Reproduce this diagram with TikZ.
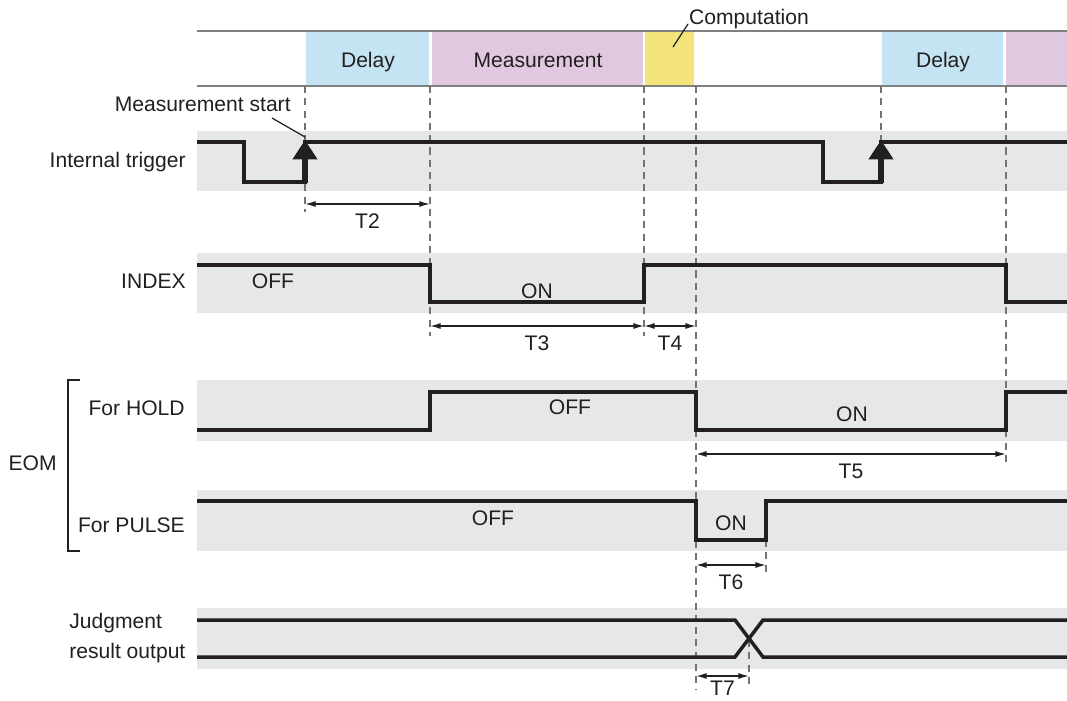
\documentclass[tikz,border=0pt]{standalone}
\usepackage{fontspec}
\setmainfont{Liberation Sans}
\usetikzlibrary{arrows.meta}
\definecolor{bandgray}{HTML}{E6E7E8}
\definecolor{delayblue}{HTML}{C4E4F4}
\definecolor{measpurple}{HTML}{E0C9E0}
\definecolor{compyellow}{HTML}{F3E57C}
\definecolor{inkgray}{HTML}{231F20}
\tikzset{
  band/.style   ={fill=bandgray},
  sig/.style    ={line width=2pt, draw=inkgray},
  tick/.style   ={draw=black!55, dash pattern=on 4pt off 3pt, line width=0.6pt},
  dim/.style    ={{Latex[length=6pt,width=3.4pt]}-{Latex[length=6pt,width=3.4pt]}, line width=0.8pt, draw=inkgray},
  lbl/.style    ={font=\fontsize{12}{15}\selectfont, inner sep=0pt, text depth=0pt, text=inkgray},
  rowlbl/.style ={lbl, anchor=east},
  trigarr/.style={line width=3.4pt, draw=inkgray, -{Triangle[length=11pt,width=13.5pt]}},
  hdr/.style    ={draw=black!50, line width=1pt},
  lead/.style   ={line width=0.7pt, draw=inkgray},
}
\begin{document}
\begin{tikzpicture}[x=0.02cm, y=-0.02cm]
  \useasboundingbox (0,0) rectangle (1067,700);

  % time marks and arrow levels
  \coordinate (tA) at (305,86);
  \coordinate (tB) at (430,86);
  \coordinate (tC) at (644,86);
  \coordinate (tD) at (696,86);
  \coordinate (tE) at (881,86);
  \coordinate (tF) at (1006,86);
  \coordinate (tG) at (766,540);
  \coordinate (tH) at (749,640);
  \coordinate (lT2) at (0,204);
  \coordinate (lT3) at (0,326);
  \coordinate (lT5) at (0,454);
  \coordinate (lT6) at (0,565);
  \coordinate (lT7) at (0,676);

  % phase header
  \fill[delayblue]  (306,31) rectangle (429,86);
  \fill[measpurple] (432,31) rectangle (643,86);
  \fill[compyellow] (645,31) rectangle (694,86);
  \fill[delayblue]  (882,31) rectangle (1003,86);
  \fill[measpurple] (1006,31) rectangle (1067,86);
  \draw[hdr] (197,31) -- (1067,31);
  \draw[hdr] (197,86) -- (1067,86);
  \node[lbl] (delayA) at (368,60) {Delay};
  \node[lbl] (meas) at (538,60) {Measurement};
  \node[lbl] (delayB) at (943,60) {Delay};
  \node[lbl] (comp) at (749,17) {Computation};
  \draw[lead] (688,24) -- (673,47);

  % signal bands
  \fill[band] (197,131) rectangle (1067,191);
  \fill[band] (197,253) rectangle (1067,313);
  \fill[band] (197,380) rectangle (1067,441);
  \fill[band] (197,490) rectangle (1067,551);
  \fill[band] (197,608) rectangle (1067,669);

  % dashed time lines
  \draw[tick] (tA) -- (tA |- 0,212);
  \draw[tick] (tB) -- (tB |- 0,336);
  \draw[tick] (tC) -- (tC |- 0,336);
  \draw[tick] (tD) -- (tD |- 0,690);
  \draw[tick] (tE) -- (tE |- 0,140);
  \draw[tick] (tF) -- (tF |- 0,462);
  \draw[tick] (tG) -- (tG |- 0,574);
  \draw[tick] (tH) -- (tH |- 0,686);

  % row labels
  \node[rowlbl] (trig) at (186,160) {Internal trigger};
  \node[rowlbl] (index) at (186,281) {INDEX};
  \node[rowlbl] (hold) at (185,408) {For HOLD};
  \node[rowlbl] (pulse) at (185,525) {For PULSE};
  \node[lbl, anchor=west, align=left, font=\fontsize{12}{17}\selectfont] (judge) at (69,636) {Judgment\\result output};
  \node[rowlbl] (eom) at (57,463) {EOM};
  \draw[line width=1.1pt, draw=inkgray] (80,380) -- (68,380) -- (68,551) -- (80,551);

  % internal trigger
  \draw[sig] (197,142) -| (244,182) -| (305,142) -- (823,142) |- (881,182) |- (1067,142);
  \draw[trigarr] (tA |- 0,183) -- (tA |- 0,140);
  \draw[trigarr] (tE |- 0,183) -- (tE |- 0,140);
  \node[lbl, anchor=east] (mstart) at (291,104) {Measurement start};
  \draw[lead] (272,118) -- (tA |- 0,137);

  % INDEX
  \draw[sig] (197,265) -| (430,302) -| (644,265) -| (1006,302) -- (1067,302);
  \node[lbl] (idxoff) at (273,281) {OFF};
  \node[lbl] (idxon) at (537,291) {ON};

  % EOM for HOLD
  \draw[sig] (197,430) -| (430,392) -| (696,430) -| (1006,392) -- (1067,392);
  \node[lbl] (holdoff) at (570,407) {OFF};
  \node[lbl] (holdon) at (852,414) {ON};

  % EOM for PULSE
  \draw[sig] (197,501) -| (696,540) -| (766,501) -- (1067,501);
  \node[lbl] (pulseoff) at (493,518) {OFF};
  \node[lbl] (pulseon) at (731,523) {ON};

  % judgment result output
  \draw[sig] (197,620) -- (735,620) -- (763,657) -- (1067,657);
  \draw[sig] (197,657) -- (735,657) -- (763,620) -- (1067,620);

  % timing intervals
  \draw[dim] (tA |- lT2) -- (tB |- lT2) node[lbl, midway, below=5pt] (t2) {T2};
  \draw[dim] (tB |- lT3) -- (tC |- lT3) node[lbl, midway, below=5pt] (t3) {T3};
  \draw[dim] (tC |- lT3) -- (tD |- lT3) node[lbl, midway, below=5pt] (t4) {T4};
  \draw[dim] (tD |- lT5) -- (tF |- lT5) node[lbl, midway, below=5pt] (t5) {T5};
  \draw[dim] (tD |- lT6) -- (tG |- lT6) node[lbl, midway, below=5pt] (t6) {T6};
  \draw[dim] (tD |- lT7) -- (tH |- lT7) node[lbl, midway, below=2.5pt] (t7) {T7};
\end{tikzpicture}
\end{document}
